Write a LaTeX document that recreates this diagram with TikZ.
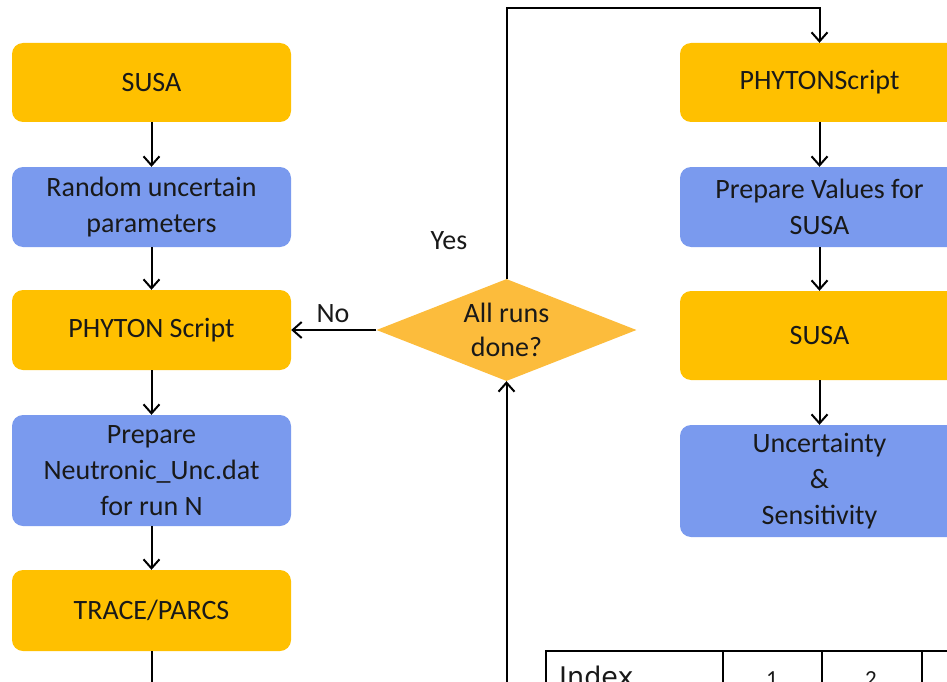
\documentclass[tikz,border=0pt]{standalone}
\usepackage{fontspec}
\setmainfont{Carlito}
\newfontfamily\tabfont{DejaVu Sans}
\usetikzlibrary{shapes.geometric,arrows.meta}
\definecolor{gold}{RGB}{255,192,0}
\definecolor{lblue}{RGB}{122,154,238}
\definecolor{dgold}{RGB}{252,188,60}
\definecolor{txt}{RGB}{25,25,25}
\tikzset{
  box/.style={rectangle, rounded corners=11pt, minimum width=279pt, inner sep=0pt,
    align=center, text=txt, font=\fontsize{28}{36}\selectfont},
  gbox/.style={box, fill=gold},
  bbox/.style={box, fill=lblue},
  conn/.style={draw=black, line width=2pt, -{Straight Barb[length=9pt,width=16pt,line width=2pt]}},
  lbl/.style={text=txt, font=\fontsize{28}{30}\selectfont, inner sep=0pt},
  tline/.style={draw=black, line width=1.6pt}
}
\begin{document}
\begin{tikzpicture}[x=1pt,y=-1pt]
\useasboundingbox (0,0) rectangle (947,682);
% left column
\node[gbox, minimum height=79pt] (susaL) at (151.5,82.5) {SUSA};
\node[bbox, minimum height=80pt] (rand) at (151.5,207) {Random uncertain\\parameters};
\node[gbox, minimum height=80pt] (pyL) at (151.5,330) {PHYTON Script};
\node[bbox, minimum height=111pt] (prep) at (151.5,470.5) {Prepare\\Neutronic\_Unc.dat\\for run N};
\node[gbox, minimum height=81pt] (trace) at (151.5,610.5) {TRACE/PARCS};
% right column
\node[gbox, minimum height=79pt] (pyR) at (819.5,82.5) {PHYTONScript};
\node[bbox, minimum height=80pt] (prepV) at (819.5,207) {Prepare Values for\\SUSA};
\node[gbox, minimum height=89pt] (susaR) at (819.5,335.5) {SUSA};
\node[bbox, minimum height=112pt] (unc) at (819.5,481) {Uncertainty\\\&\\Sensitivity};
% decision
\node[diamond, fill=dgold, aspect=2.6, inner sep=0pt, minimum width=260pt, minimum height=102pt,
  align=center, text=txt, font=\fontsize{28}{34}\selectfont] (dia) at (506.5,330) {All runs\\done?};
% labels
\node[lbl] (no) at (333,314) {No};
\node[lbl] (yes) at (449,241) {Yes};
% connectors
\draw[conn] (susaL) -- (rand);
\draw[conn] (rand) -- (pyL);
\draw[conn] (pyL) -- (prep);
\draw[conn] (prep) -- (trace);
\draw[conn] (pyR) -- (prepV);
\draw[conn] (prepV) -- (susaR);
\draw[conn] (susaR) -- (unc);
\draw[conn] (dia.west) -- (pyL.east);
\coordinate (topc) at (819.5,8);
\draw[conn] (dia.north) |- (topc) -- (pyR.north);
\coordinate (botc) at (506.5,683);
\draw[conn] (trace.south) |- (botc) -- (dia.south);
% table fragment
\draw[tline] (546,700) -- (546,651) -- (960,651);
\draw[tline] (723,651) -- (723,700);
\draw[tline] (822,651) -- (822,700);
\draw[tline] (922,651) -- (922,700);
\node[anchor=base west, inner sep=0pt, text=txt, font=\tabfont\fontsize{27}{30}\selectfont] (idx) at (559,686) {Index};
\node[anchor=base, inner sep=0pt, text=txt, font=\fontsize{23}{28}\selectfont] (c1) at (772,686) {1};
\node[anchor=base, inner sep=0pt, text=txt, font=\fontsize{23}{28}\selectfont] (c2) at (871,686) {2};
\end{tikzpicture}
\end{document}
